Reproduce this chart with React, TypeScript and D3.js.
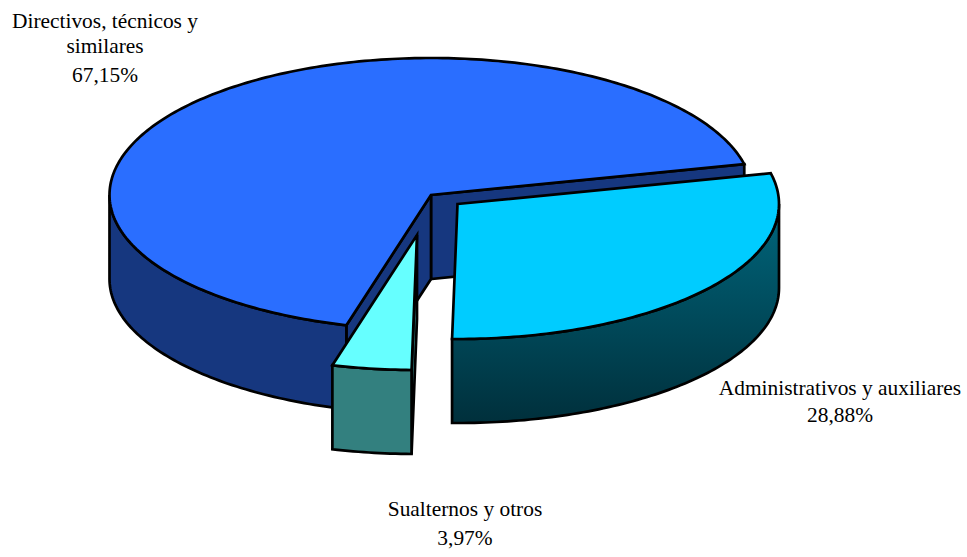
import React from "react";
import * as d3 from "d3";

const categories = ["Administrativos y auxiliares", "Sualternos y otros", "Directivos, técnicos y similares"];
const values = [28.88, 3.97, 67.15];
const percentLabels = ["28,88%", "3,97%", "67,15%"];
const topColors = ["#00CCFF", "#66FFFF", "#2A6EFF"];
const sideColors = ["url(#sideGrad)", "#33807F", "#16377F"];

const W = 967, H = 557;
const RX = 321.5, RY_BACK = 137, RY_FRONT = 135, DEPTH = 84;
const START = (77 * Math.PI) / 180;
const centers: [number, number][] = [[457.5, 204], [417, 235], [431, 195]];
const labelLines = [
  [{ t: categories[0], x: 840, y: 395 }, { t: percentLabels[0], x: 840, y: 422 }],
  [{ t: categories[1], x: 465, y: 516 }, { t: percentLabels[1], x: 465, y: 544.5 }],
  [{ t: "Directivos, técnicos y", x: 105, y: 28 }, { t: "similares", x: 105, y: 53 }, { t: percentLabels[2], x: 105, y: 82 }],
];

const line = d3.line<[number, number]>().curve(d3.curveLinear);
const pie = d3.pie<number>().sort(null).startAngle(START).endAngle(START + 2 * Math.PI);
const slices = pie(values);

function pt(c: [number, number], a: number, dy = 0): [number, number] {
  const cos = Math.cos(a);
  return [c[0] + RX * Math.sin(a), c[1] - (cos > 0 ? RY_BACK : RY_FRONT) * cos + dy];
}
function arcPts(c: [number, number], a0: number, a1: number, dy = 0): [number, number][] {
  const n = Math.max(2, Math.ceil(((a1 - a0) * 180) / Math.PI));
  return d3.range(n + 1).map((i) => pt(c, a0 + ((a1 - a0) * i) / n, dy));
}
function wall(c: [number, number], a: number) {
  const p = pt(c, a);
  return line([c, p, [p[0], p[1] + DEPTH], [c[0], c[1] + DEPTH]])! + "Z";
}
function outer(c: [number, number], a0: number, a1: number): string[] {
  const out: string[] = [];
  for (const k of [0, 1]) {
    const lo = Math.max(a0, Math.PI / 2 + k * 2 * Math.PI);
    const hi = Math.min(a1, (3 * Math.PI) / 2 + k * 2 * Math.PI);
    if (hi > lo) {
      const top = arcPts(c, lo, hi);
      const bot = arcPts(c, lo, hi, DEPTH).reverse();
      out.push(line([...top, ...bot])! + "Z");
    }
  }
  return out;
}
function topFace(c: [number, number], a0: number, a1: number) {
  return line([c, ...arcPts(c, a0, a1)])! + "Z";
}

const order = [2, 1, 0];
const strokeProps = { stroke: "#000", strokeWidth: 2.7, strokeLinejoin: "miter" as const };

export default function App() {
  return (
    <svg width={W} height={H} viewBox={`0 0 ${W} ${H}`} style={{ position: "absolute", left: 0, top: 0, background: "#fff" }}>
      <defs>
        <linearGradient id="sideGrad" gradientUnits="userSpaceOnUse" x1="0" y1="205" x2="0" y2="425">
          <stop offset="0" stopColor="#00667C" />
          <stop offset="1" stopColor="#002F3B" />
        </linearGradient>
      </defs>
      {order.map((i) => {
        const s = slices[i];
        const c = centers[i];
        const walls: number[] = [];
        if (Math.sin(s.endAngle) > 0) walls.push(s.endAngle);
        if (Math.sin(s.startAngle) < 0) walls.push(s.startAngle);
        return (
          <g key={i} {...strokeProps}>
            {walls.map((a, j) => (
              <path key={j} d={wall(c, a)} fill={sideColors[i]} />
            ))}
            {outer(c, s.startAngle, s.endAngle).map((d, j) => (
              <path key={j} d={d} fill={sideColors[i]} />
            ))}
            <path d={topFace(c, s.startAngle, s.endAngle)} fill={topColors[i]} />
          </g>
        );
      })}
      {labelLines.flat().map((l, i) => (
        <text key={i} x={l.x} y={l.y} textAnchor="middle" fontFamily="'Liberation Serif', serif" fontSize={21.4} fill="#000">
          {l.t}
        </text>
      ))}
    </svg>
  );
}
